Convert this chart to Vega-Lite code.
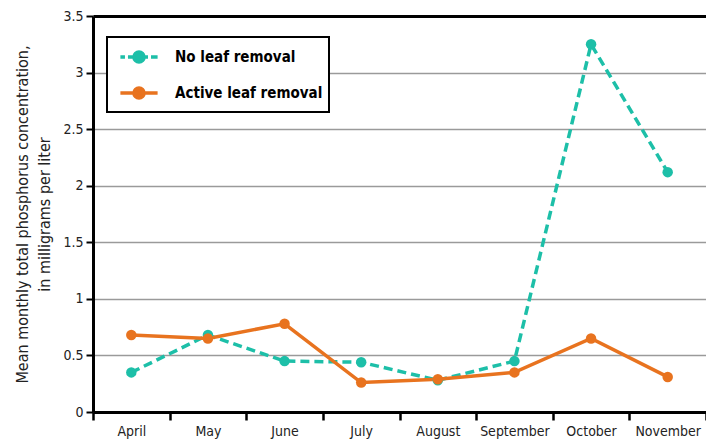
{
  "$schema": "https://vega.github.io/schema/vega-lite/v6.json",
  "width": 613,
  "height": 396,
  "autosize": {"type": "none"},
  "padding": {"left": 93, "top": 16, "right": 0, "bottom": 28},
  "background": "white",
  "config": {
    "view": {"stroke": null},
    "font": "'DejaVu Sans Condensed', 'Liberation Sans', sans-serif"
  },
  "data": {
    "values": [
      {"month": "April", "series": "No leaf removal", "value": 0.35},
      {"month": "May", "series": "No leaf removal", "value": 0.68},
      {"month": "June", "series": "No leaf removal", "value": 0.45},
      {"month": "July", "series": "No leaf removal", "value": 0.44},
      {"month": "August", "series": "No leaf removal", "value": 0.28},
      {"month": "September", "series": "No leaf removal", "value": 0.45},
      {"month": "October", "series": "No leaf removal", "value": 3.25},
      {"month": "November", "series": "No leaf removal", "value": 2.12},
      {"month": "April", "series": "Active leaf removal", "value": 0.68},
      {"month": "May", "series": "Active leaf removal", "value": 0.65},
      {"month": "June", "series": "Active leaf removal", "value": 0.78},
      {"month": "July", "series": "Active leaf removal", "value": 0.26},
      {"month": "August", "series": "Active leaf removal", "value": 0.29},
      {"month": "September", "series": "Active leaf removal", "value": 0.35},
      {"month": "October", "series": "Active leaf removal", "value": 0.65},
      {"month": "November", "series": "Active leaf removal", "value": 0.31}
    ]
  },
  "encoding": {
    "x": {
      "field": "month",
      "type": "nominal",
      "sort": ["April", "May", "June", "July", "August", "September", "October", "November"],
      "scale": {"type": "band", "paddingInner": 0, "paddingOuter": 0},
      "axis": {
        "title": null,
        "labelAngle": 0,
        "tickBand": "extent",
        "domain": true,
        "domainColor": "black",
        "domainWidth": 3,
        "grid": false,
        "ticks": true,
        "tickColor": "black",
        "tickWidth": 2.5,
        "tickSize": 8,
        "labelFontSize": 14,
        "labelColor": "#222",
        "labelPadding": 4
      }
    },
    "y": {
      "field": "value",
      "type": "quantitative",
      "scale": {"domain": [0, 3.5], "nice": false},
      "axis": {
        "values": [0, 0.5, 1, 1.5, 2, 2.5, 3, 3.5],
        "format": "~g",
        "title": ["Mean monthly total phosphorus concentration,", "in milligrams per liter"],
        "titleFontWeight": "normal",
        "titleFontSize": 16,
        "titleColor": "#222",
        "titlePadding": 10,
        "titleLineHeight": 22,
        "domain": true,
        "domainColor": "black",
        "domainWidth": 3,
        "grid": true,
        "gridColor": {"condition": {"test": "datum.value === 3.5", "value": "black"}, "value": "#9a9a9a"},
        "gridWidth": {"condition": {"test": "datum.value === 3.5", "value": 3}, "value": 1.5},
        "tickColor": "black",
        "tickWidth": 2,
        "tickSize": 7,
        "labelFontSize": 14,
        "labelColor": "#222",
        "labelPadding": 3
      }
    },
    "color": {
      "field": "series",
      "type": "nominal",
      "scale": {"domain": ["No leaf removal", "Active leaf removal"], "range": ["#1dbfa8", "#e8731f"]},
      "legend": {
        "title": null,
        "orient": "none",
        "legendX": 14,
        "legendY": 21,
        "strokeColor": "black",
        "fillColor": "white",
        "padding": 6,
        "labelFontWeight": "bold",
        "labelFontSize": 15,
        "labelColor": "black",
        "labelOffset": 22,
        "symbolOffset": 12,
        "symbolSize": 576,
        "symbolStrokeWidth": 3.5,
        "rowPadding": 9,
        "encode": {
          "legend": {"update": {"strokeWidth": {"value": 2}}},
          "symbols": {
            "update": {
              "shape": {"signal": "datum.value === 'No leaf removal' ? 'M-1.55,0H-1.17M-0.92,0H-0.5M0.5,0H0.75M1,0H1.55M-0.42,0A0.42,0.42,0,1,1,0.42,0A0.42,0.42,0,1,1,-0.42,0Z' : 'M-1.55,0H1.55M-0.42,0A0.42,0.42,0,1,1,0.42,0A0.42,0.42,0,1,1,-0.42,0Z'"},
              "fill": {"signal": "datum.value === 'No leaf removal' ? '#1dbfa8' : '#e8731f'"},
              "stroke": {"signal": "datum.value === 'No leaf removal' ? '#1dbfa8' : '#e8731f'"},
              "fillOpacity": {"value": 1}
            }
          }
        }
      }
    }
  },
  "layer": [
    {
      "transform": [{"filter": "datum.series === 'No leaf removal'"}],
      "mark": {"type": "line", "strokeWidth": 3.5, "strokeDash": [9, 5]}
    },
    {
      "transform": [{"filter": "datum.series === 'Active leaf removal'"}],
      "mark": {"type": "line", "strokeWidth": 3.5}
    },
    {
      "mark": {"type": "point", "filled": true, "size": 110, "opacity": 1}
    }
  ]
}
